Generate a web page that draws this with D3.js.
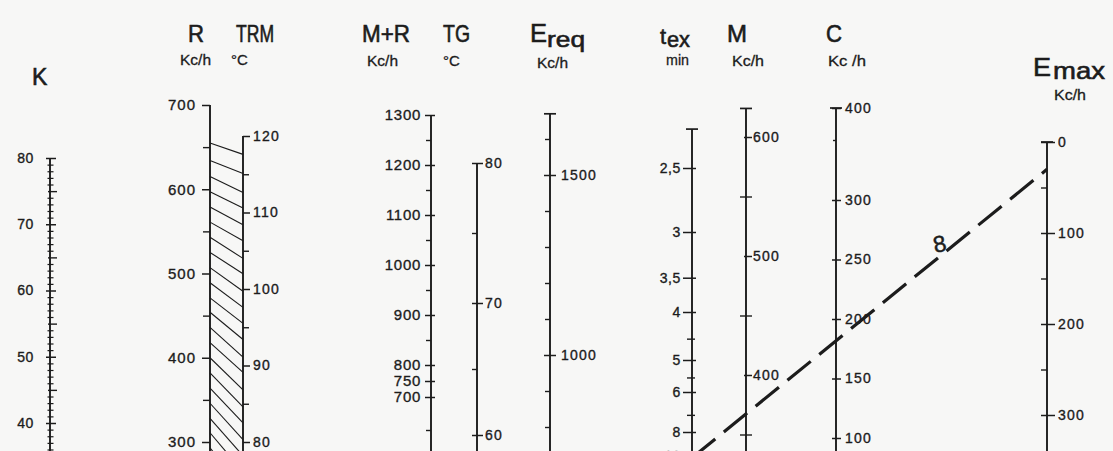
<!DOCTYPE html>
<html>
<head>
<meta charset="utf-8">
<script src="https://cdn.jsdelivr.net/npm/d3@7"></script>
<style>
  body { margin: 0; background: #f7f7f6; }
  svg { display: block; }
  text { font-family: "Liberation Sans", Arial, sans-serif; fill: #1c1c1c; }
</style>
</head>
<body>
<div id="chart"></div>
<script>
// ---- scale values ----
const kLabels = [40, 50, 60, 70, 80];
const kFives = [45, 55, 65, 75];
const kUnits = d3.range(36, 81);

const rLabels = [300, 400, 500, 600, 700];
const rMinor = [350, 450, 550, 650];
const trmLabels = [80, 90, 100, 110, 120];
const trmMinor = [85, 95, 105, 115];

const mrLabels = [700, 750, 800, 900, 1000, 1100, 1200, 1300];
const mrMinor = [650, 850, 950, 1050, 1150, 1250];
const tgLabels = [60, 70, 80];
const tgMinor = [65, 75];

const ereqLabels = [1000, 1500];
const ereqMinor = [800, 900, 1100, 1200, 1300, 1400, 1600];

const texLabels = [2.5, 3, 3.5, 4, 5, 6, 8, 10];
const texMinor = [4.5, 5.5, 7];
const mLabels = [400, 500, 600];
const mMinor = [350, 450, 550];
const cLabels = [100, 150, 200, 250, 300, 400];
const cMinor = [350];
const emaxLabels = [0, 100, 200, 300];
const emaxMinor = [50, 150, 250];

// hatching between R and TRM (pairs R value -> TRM value)
const hatchR = [655, 634, 615, 597, 579, 561, 543, 525, 507, 489, 471, 454, 436, 418, 400, 382, 364, 346, 328, 311, 293];
const hatchTRM = [117.6, 115.1, 112.6, 110.6, 108.4, 106.3, 104, 102, 99.7, 97.6, 95.5, 93.4, 91.1, 89.1, 86.8, 84.6, 82.5, 80.3, 78.2, 76.1, 73.9];

// example isopleth "8": tex -> Emax
const isoTex = 10.2;
const isoEmax = 30;

// ---- layout ----
const width = 1113, height = 451;
const svg = d3.select("#chart").append("svg").attr("width", width).attr("height", height);
svg.append("rect").attr("width", width).attr("height", height).attr("fill", "#f7f7f6");

const X = { K: 50, R: 210, TRM: 243, MR: 431, TG: 477, Ereq: 550, tex: 692, M: 746, C: 836, Emax: 1047 };

const yK = d3.scaleLinear().domain([40, 80]).range([423, 158]);
const yR = d3.scaleLinear().domain([300, 700]).range([442, 105]);
const yTRM = d3.scaleLinear().domain([80, 120]).range([442, 136]);
const yMR = d3.scaleLinear().domain([650, 700, 800, 1300]).range([430, 397, 365, 115]);
const yTG = d3.scaleLinear().domain([60, 70, 80]).range([435, 303, 163]);
const yEreq = d3.scaleLinear().domain([1000, 1500]).range([355, 175]);
const yTex = d3.scalePow().exponent(-1).domain([2.5, 10]).range([168, 456]);
const yM = d3.scaleLinear().domain([400, 600]).range([375, 137]);
const yC = d3.scaleLinear().domain([100, 300, 350, 400]).range([438, 200, 140, 108]);
const yEmax = d3.scaleLinear().domain([0, 300]).range([142, 415]);

const ink = "#1c1c1c";
const comma = d => String(d).replace(".", ",");

function drawAxis(o) {
  const g = svg.append("g").attr("transform", `translate(${o.x},0)`);
  g.append("line")
    .attr("y1", o.scale(o.top)).attr("y2", o.scale(o.bottom))
    .attr("stroke", ink).attr("stroke-width", 1.9);
  if (o.cap) {
    g.append("line").attr("x1", o.cap[0]).attr("x2", o.cap[1])
      .attr("y1", o.scale(o.top)).attr("y2", o.scale(o.top))
      .attr("stroke", ink).attr("stroke-width", 1.7);
  }
  const make = o.side === "left" ? d3.axisLeft : d3.axisRight;
  const major = make(o.scale).tickValues(o.labels).tickSizeOuter(0)
    .tickSize(o.size).tickPadding(o.pad).tickFormat(o.fmt || d3.format("d"));
  const gm = g.append("g").call(major);
  gm.select(".domain").remove();
  gm.attr("font-family", null).attr("font-size", null);
  gm.selectAll(".tick line").attr("x1", o.majorTick[0]).attr("x2", o.majorTick[1])
    .attr("stroke", ink).attr("stroke-width", 1.5);
  gm.selectAll(".tick text").attr("font-size", o.fs || 14).attr("fill", ink)
    .attr("letter-spacing", o.ls == null ? 1.2 : o.ls)
    .attr("stroke", ink).attr("stroke-width", 0.35);
  if (o.minor) {
    const minor = make(o.scale).tickValues(o.minor).tickSizeOuter(0).tickFormat("");
    const gn = g.append("g").call(minor);
    gn.select(".domain").remove();
    gn.selectAll(".tick line").attr("x1", o.minorTick[0]).attr("x2", o.minorTick[1])
      .attr("stroke", ink).attr("stroke-width", 1.4);
  }
  return g;
}

// K axis: unit ticks, fives, tens
const gK = drawAxis({ x: X.K, scale: yK, side: "left", top: 80, bottom: 33, labels: kLabels,
  size: 4, pad: 12, majorTick: [-4, 6], minor: kFives, minorTick: [-2, 7], fs: 14, ls: 0.6 });
const kU = d3.axisRight(yK).tickValues(kUnits.filter(v => v % 5)).tickSizeOuter(0).tickFormat("");
const gku = gK.append("g").call(kU);
gku.select(".domain").remove();
gku.selectAll(".tick line").attr("x1", -2.5).attr("x2", 3.5).attr("stroke", ink).attr("stroke-width", 1.2);

drawAxis({ x: X.R, scale: yR, side: "left", top: 700, bottom: 250, labels: rLabels,
  size: 8, pad: 6, majorTick: [-8, 0], minor: rMinor, minorTick: [-7, 0], fs: 15, ls: 1 });
drawAxis({ x: X.TRM, scale: yTRM, side: "right", top: 120, bottom: 70, labels: trmLabels,
  size: 7, pad: 3, majorTick: [0, 7], minor: trmMinor, minorTick: [0, 6] });

drawAxis({ x: X.MR, scale: yMR, side: "left", top: 1300, bottom: 600, labels: mrLabels,
  size: 6, pad: 4, majorTick: [-6, 4], minor: mrMinor, minorTick: [-5, 0], fs: 15, ls: 0.7 });
drawAxis({ x: X.TG, scale: yTG, side: "right", top: 80, bottom: 55, labels: tgLabels,
  size: 6, pad: 2, majorTick: [-5, 6], minor: tgMinor, minorTick: [-5, 0] });

drawAxis({ x: X.Ereq, scale: yEreq, side: "right", top: 1670, bottom: 700, labels: ereqLabels,
  size: 6, pad: 5, majorTick: [-6, 6], minor: ereqMinor, minorTick: [-5, 0], cap: [-6, 6] });

drawAxis({ x: X.tex, scale: yTex, side: "left", top: 2.27, bottom: 12, labels: texLabels,
  size: 9, pad: 2, majorTick: [-9, 4], minor: texMinor, minorTick: [-5, 3], cap: [-6, 6], fmt: comma, ls: 0.6 });
drawAxis({ x: X.M, scale: yM, side: "right", top: 624, bottom: 300, labels: mLabels,
  size: 6, pad: 1, majorTick: [-2, 6], minor: mMinor, minorTick: [-6, 6], cap: [-6, 6] });
drawAxis({ x: X.C, scale: yC, side: "right", top: 400, bottom: 80, labels: cLabels,
  size: 6, pad: 3, majorTick: [-4, 5], minor: cMinor, minorTick: [-3, 0], cap: [-6, 6] });
drawAxis({ x: X.Emax, scale: yEmax, side: "right", top: 0, bottom: 350, labels: emaxLabels,
  size: 8, pad: 3, majorTick: [-6, 8], minor: emaxMinor, minorTick: [-6, 0], cap: [-6, 6] });

// hatching
svg.append("g").selectAll("line").data(hatchR).join("line")
  .attr("x1", X.R).attr("x2", X.TRM)
  .attr("y1", d => yR(d)).attr("y2", (d, i) => yTRM(hatchTRM[i]))
  .attr("stroke", ink).attr("stroke-width", 1.1);

// isopleth
svg.append("line")
  .attr("x1", X.tex).attr("y1", yTex(isoTex))
  .attr("x2", X.Emax).attr("y2", yEmax(isoEmax))
  .attr("stroke", ink).attr("stroke-width", 3.2).attr("stroke-dasharray", "30 11");
svg.append("text").attr("transform", "translate(935,253) rotate(-12)")
  .attr("font-size", 23).attr("stroke", ink).attr("stroke-width", 0.5).text("8");

// headings
function big(x, y, t, fs, len) {
  const s = svg.append("text").attr("x", x).attr("y", y).attr("font-size", fs || 24)
    .attr("stroke", ink).attr("stroke-width", 0.6).text(t);
  if (len) s.attr("textLength", len).attr("lengthAdjust", "spacingAndGlyphs");
  return s;
}
const unit = (x, y, t, len) => {
  const s = svg.append("text").attr("x", x).attr("y", y).attr("font-size", 15)
    .attr("stroke", ink).attr("stroke-width", 0.3).text(t);
  if (len) s.attr("textLength", len).attr("lengthAdjust", "spacingAndGlyphs");
  return s;
};

big(32, 85, "K", 23);
big(188, 42, "R", 24, 16); big(236, 42, "TRM", 24, 38);
unit(180, 65, "Kc/h", 31); unit(231, 65, "°C");
big(362, 42, "M+R", 24, 48); big(443, 42, "TG", 24, 27);
unit(367, 66, "Kc/h", 31); unit(443, 66, "°C");
big(530, 42, "E", 26, 17); big(547, 47, "req", 22, 38);
unit(537, 68, "Kc/h", 31);
big(660, 44, "t", 22); big(667, 47, "ex", 22, 23);
unit(666, 65, "min", 23);
big(727, 42, "M", 24, 20); unit(732, 66, "Kc/h", 32);
big(826, 42, "C", 24, 16); unit(828, 66, "Kc /h", 38);
big(1033, 76, "E", 26, 18); big(1053, 79, "max", 24, 52);
unit(1054, 100, "Kc/h", 32);
</script>
</body>
</html>
